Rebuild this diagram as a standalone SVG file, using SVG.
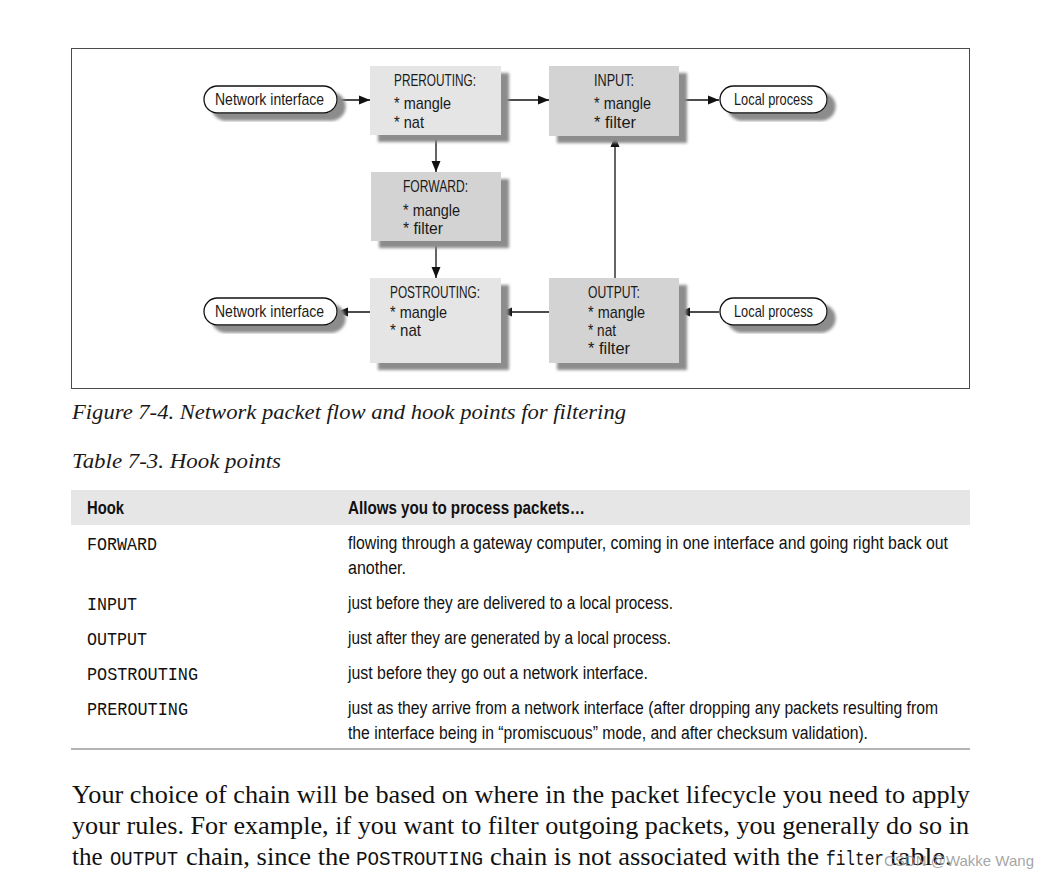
<svg xmlns="http://www.w3.org/2000/svg" width="1051" height="879" viewBox="0 0 1051 879">
<defs>
<filter id="sh" x="-20%" y="-20%" width="150%" height="150%">
<feGaussianBlur in="SourceAlpha" stdDeviation="1.6"/>
<feOffset dx="8" dy="7" result="b"/>
<feFlood flood-color="#8c8c8c"/>
<feComposite in2="b" operator="in"/>
<feMerge><feMergeNode/><feMergeNode in="SourceGraphic"/></feMerge>
</filter>
<marker id="ah" markerUnits="userSpaceOnUse" markerWidth="12" markerHeight="10" refX="11" refY="5" orient="auto">
<path d="M0,0.5 L11,5 L0,9.5 Z" fill="#111"/>
</marker>
<style>
.frame{fill:#fff;stroke:#4a4a4a;stroke-width:1}
.lt{fill:#e5e5e5}
.dk{fill:#d3d3d3}
.pill{fill:#fff;stroke:#111;stroke-width:1.3}
.cn{stroke:#111;stroke-width:1.3;fill:none;marker-end:url(#ah)}
.d{font-family:"Liberation Sans Narrow","Liberation Sans",Arial,sans-serif;font-size:17px;fill:#1a1a1a}
.cap{font-family:"Liberation Serif","Times New Roman",serif;font-style:italic;font-size:22px;fill:#1a1a1a}
.tb{font-family:"Liberation Sans Narrow","Liberation Sans",Arial,sans-serif;font-size:18px;fill:#111}
.th{font-family:"Liberation Sans Narrow","Liberation Sans",Arial,sans-serif;font-size:18px;font-weight:bold;fill:#111}
.mono{font-family:"Liberation Mono","Courier New",monospace;font-size:18.5px;fill:#111}
.body{font-family:"Liberation Serif","Times New Roman",serif;font-size:25px;fill:#111}
.bm{font-family:"Liberation Mono","Courier New",monospace;font-size:21px}
.wm{font-family:"Liberation Sans",Arial,sans-serif;font-size:15px;fill:#9a9a9a;fill-opacity:0.9}
</style>
</defs>
<rect width="1051" height="879" fill="#fff"/>
<rect class="frame" x="71.5" y="48.5" width="898" height="340"/>

<g id="connectors">
<line class="cn" x1="337" y1="100" x2="370" y2="100"/>
<line class="cn" x1="501" y1="100" x2="549" y2="100"/>
<line class="cn" x1="679" y1="100" x2="719" y2="100"/>
<line class="cn" x1="436" y1="135" x2="436" y2="172"/>
<line class="cn" x1="436" y1="241" x2="436" y2="278"/>
<line class="cn" x1="615" y1="278" x2="615" y2="136"/>
<line class="cn" x1="719" y1="312" x2="679" y2="312"/>
<line class="cn" x1="549" y1="312" x2="501" y2="312"/>
<line class="cn" x1="370" y1="312" x2="337" y2="312"/>
</g>

<g id="net-in">
<rect class="pill" x="204" y="86" width="133" height="27" rx="13.5" filter="url(#sh)"/>
<text class="d" x="215" y="105" textLength="109" lengthAdjust="spacingAndGlyphs">Network interface</text>
</g>
<g id="prerouting">
<rect class="lt" x="370" y="66" width="131" height="69" filter="url(#sh)"/>
<text class="d" x="394" y="86" textLength="82" lengthAdjust="spacingAndGlyphs">PREROUTING:</text>
<text class="d" x="394" y="109" textLength="57" lengthAdjust="spacingAndGlyphs">* mangle</text>
<text class="d" x="394" y="128" textLength="30" lengthAdjust="spacingAndGlyphs">* nat</text>
</g>
<g id="input">
<rect class="dk" x="549" y="66" width="130" height="70" filter="url(#sh)"/>
<text class="d" x="594" y="86" textLength="40" lengthAdjust="spacingAndGlyphs">INPUT:</text>
<text class="d" x="594" y="109" textLength="57" lengthAdjust="spacingAndGlyphs">* mangle</text>
<text class="d" x="594" y="128" textLength="42" lengthAdjust="spacingAndGlyphs">* filter</text>
</g>
<g id="local-in">
<rect class="pill" x="720" y="86" width="107" height="27" rx="13.5" filter="url(#sh)"/>
<text class="d" x="734" y="105" textLength="79" lengthAdjust="spacingAndGlyphs">Local process</text>
</g>
<g id="forward">
<rect class="dk" x="371" y="172" width="130" height="69" filter="url(#sh)"/>
<text class="d" x="403" y="192" textLength="65" lengthAdjust="spacingAndGlyphs">FORWARD:</text>
<text class="d" x="403" y="216" textLength="57" lengthAdjust="spacingAndGlyphs">* mangle</text>
<text class="d" x="403" y="234" textLength="40" lengthAdjust="spacingAndGlyphs">* filter</text>
</g>
<g id="postrouting">
<rect class="lt" x="370" y="278" width="131" height="85" filter="url(#sh)"/>
<text class="d" x="390" y="298" textLength="90" lengthAdjust="spacingAndGlyphs">POSTROUTING:</text>
<text class="d" x="390" y="318" textLength="57" lengthAdjust="spacingAndGlyphs">* mangle</text>
<text class="d" x="390" y="336" textLength="31" lengthAdjust="spacingAndGlyphs">* nat</text>
</g>
<g id="output">
<rect class="dk" x="549" y="278" width="130" height="85" filter="url(#sh)"/>
<text class="d" x="588" y="298" textLength="52" lengthAdjust="spacingAndGlyphs">OUTPUT:</text>
<text class="d" x="588" y="318" textLength="57" lengthAdjust="spacingAndGlyphs">* mangle</text>
<text class="d" x="588" y="336" textLength="28" lengthAdjust="spacingAndGlyphs">* nat</text>
<text class="d" x="588" y="354" textLength="42" lengthAdjust="spacingAndGlyphs">* filter</text>
</g>
<g id="net-out">
<rect class="pill" x="204" y="298" width="133" height="27" rx="13.5" filter="url(#sh)"/>
<text class="d" x="215" y="317" textLength="109" lengthAdjust="spacingAndGlyphs">Network interface</text>
</g>
<g id="local-out">
<rect class="pill" x="720" y="298" width="107" height="27" rx="13.5" filter="url(#sh)"/>
<text class="d" x="734" y="317" textLength="79" lengthAdjust="spacingAndGlyphs">Local process</text>
</g>

<text class="cap" x="72" y="419" textLength="554" lengthAdjust="spacingAndGlyphs">Figure 7-4. Network packet flow and hook points for filtering</text>
<text class="cap" x="72" y="468" textLength="209" lengthAdjust="spacingAndGlyphs">Table 7-3. Hook points</text>

<rect x="71" y="490" width="899" height="35" fill="#e6e6e6"/>
<text class="th" x="87" y="514" textLength="37" lengthAdjust="spacingAndGlyphs">Hook</text>
<text class="th" x="348" y="514" textLength="237" lengthAdjust="spacingAndGlyphs">Allows you to process packets…</text>

<text class="mono" x="87" y="550" textLength="70" lengthAdjust="spacingAndGlyphs">FORWARD</text>
<text class="tb" x="348" y="549" textLength="600" lengthAdjust="spacingAndGlyphs">flowing through a gateway computer, coming in one interface and going right back out</text>
<text class="tb" x="348" y="574" textLength="58" lengthAdjust="spacingAndGlyphs">another.</text>
<text class="mono" x="87" y="610" textLength="50" lengthAdjust="spacingAndGlyphs">INPUT</text>
<text class="tb" x="348" y="609" textLength="325" lengthAdjust="spacingAndGlyphs">just before they are delivered to a local process.</text>
<text class="mono" x="87" y="645" textLength="60" lengthAdjust="spacingAndGlyphs">OUTPUT</text>
<text class="tb" x="348" y="644" textLength="323" lengthAdjust="spacingAndGlyphs">just after they are generated by a local process.</text>
<text class="mono" x="87" y="680" textLength="111" lengthAdjust="spacingAndGlyphs">POSTROUTING</text>
<text class="tb" x="348" y="679" textLength="300" lengthAdjust="spacingAndGlyphs">just before they go out a network interface.</text>
<text class="mono" x="87" y="715" textLength="101" lengthAdjust="spacingAndGlyphs">PREROUTING</text>
<text class="tb" x="348" y="714" textLength="590" lengthAdjust="spacingAndGlyphs">just as they arrive from a network interface (after dropping any packets resulting from</text>
<text class="tb" x="348" y="739" textLength="520" lengthAdjust="spacingAndGlyphs">the interface being in “promiscuous” mode, and after checksum validation).</text>
<line x1="71" y1="749" x2="970" y2="749" stroke="#b4b4b4" stroke-width="2"/>

<text class="body" x="72" y="803" textLength="898" lengthAdjust="spacingAndGlyphs">Your choice of chain will be based on where in the packet lifecycle you need to apply</text>
<text class="body" x="72" y="834" textLength="897" lengthAdjust="spacingAndGlyphs">your rules. For example, if you want to filter outgoing packets, you generally do so in</text>
<g class="body">
<text x="72" y="865">the</text>
<text class="bm" x="110" y="865" textLength="68" lengthAdjust="spacingAndGlyphs">OUTPUT</text>
<text x="186" y="865" textLength="164" lengthAdjust="spacingAndGlyphs">chain, since the</text>
<text class="bm" x="356" y="865" textLength="127" lengthAdjust="spacingAndGlyphs">POSTROUTING</text>
<text x="490" y="865" textLength="329" lengthAdjust="spacingAndGlyphs">chain is not associated with the</text>
<text class="bm" x="826" y="865" textLength="58" lengthAdjust="spacingAndGlyphs">filter</text>
<text x="890" y="865" textLength="62" lengthAdjust="spacingAndGlyphs">table.</text>
</g>
<text class="wm" x="884" y="866">CSDN @Wakke Wang</text>
</svg>
